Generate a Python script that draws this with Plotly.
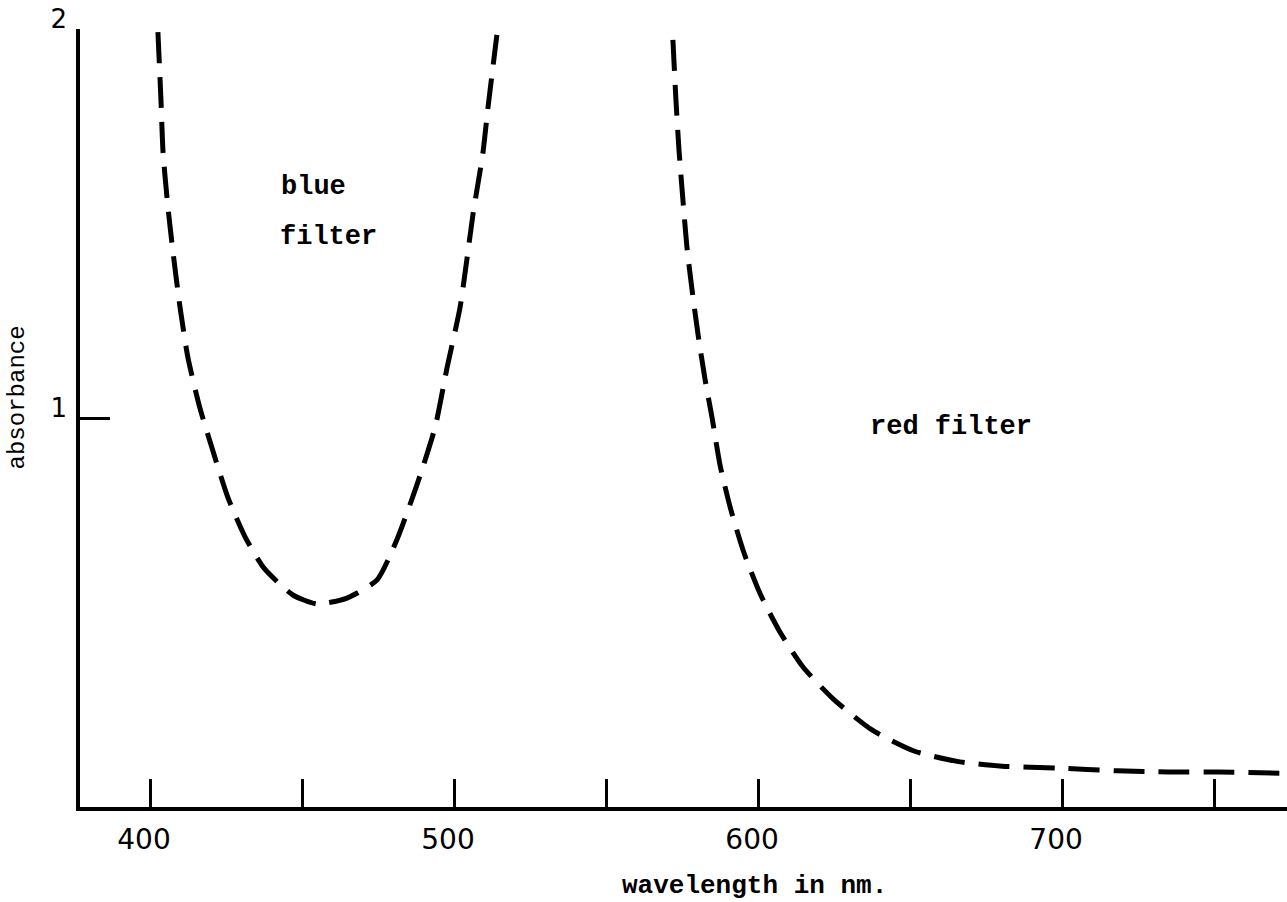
import plotly.graph_objects as go

# Blue filter absorbance curve
blue_wavelength = [402.6, 403.6, 404.3, 405.9, 407.6, 409.9, 412.5, 416.4, 420.7, 425.7,
                   431.3, 437.5, 447.0, 454.9, 464.8, 474.7, 481.3, 487.8, 493.8, 497.7,
                   502.0, 506.3, 509.5, 511.2, 514.1]
blue_absorbance = [1.992, 1.817, 1.681, 1.542, 1.424, 1.283, 1.154, 1.026, 0.915, 0.794,
                   0.694, 0.614, 0.545, 0.522, 0.537, 0.584, 0.689, 0.828, 0.977, 1.129,
                   1.285, 1.527, 1.681, 1.800, 1.985]

# Red filter absorbance curve
red_wavelength = [572.0, 573.0, 574.0, 575.3, 576.6, 578.3, 580.3, 582.6, 584.9, 587.5,
                  591.1, 595.4, 600.7, 607.2, 614.8, 624.7, 637.5, 651.3, 666.4, 680.3,
                  698.4, 718.1, 735.2, 751.3, 772.0]
red_absorbance = [1.972, 1.817, 1.689, 1.560, 1.440, 1.329, 1.213, 1.098, 1.000, 0.879,
                  0.763, 0.653, 0.548, 0.450, 0.360, 0.278, 0.198, 0.144, 0.116, 0.105,
                  0.100, 0.093, 0.090, 0.090, 0.087]

x_tick_values = [400, 450, 500, 550, 600, 650, 700, 750]
x_tick_labels = ["400", "", "500", "", "600", "", "700", ""]
y_tick_values = [1, 2]
y_tick_labels = ["1", "2"]

line_style = dict(color="black", width=5, dash="31px,14px", shape="spline", smoothing=0.6)

fig = go.Figure()
fig.add_trace(go.Scatter(x=blue_wavelength, y=blue_absorbance, mode="lines",
                         line=line_style, name="blue filter", showlegend=False,
                         hoverinfo="skip"))
fig.add_trace(go.Scatter(x=red_wavelength, y=red_absorbance, mode="lines",
                         line=line_style, name="red filter", showlegend=False,
                         hoverinfo="skip"))

mono = "Liberation Mono"
fig.add_annotation(x=442.5, y=1.594, xref="x", yref="y", text="<b>blue</b>",
                   showarrow=False, xanchor="left", yanchor="middle",
                   font=dict(family=mono, size=27, color="black"))
fig.add_annotation(x=442.0, y=1.465, xref="x", yref="y", text="<b>filter</b>",
                   showarrow=False, xanchor="left", yanchor="middle",
                   font=dict(family=mono, size=27, color="black"))
fig.add_annotation(x=636.2, y=0.977, xref="x", yref="y", text="<b>red filter</b>",
                   showarrow=False, xanchor="left", yanchor="middle",
                   font=dict(family=mono, size=27, color="black"))
fig.add_annotation(x=599.0, y=-0.101, xref="x", yref="paper", text="<b>wavelength in nm.</b>",
                   showarrow=False, xanchor="center", yanchor="middle",
                   font=dict(family=mono, size=26, color="black"))
fig.add_annotation(x=-0.051, y=0.527, xref="paper", yref="paper", text="absorbance",
                   showarrow=False, xanchor="center", yanchor="middle", textangle=-90,
                   font=dict(family=mono, size=24, color="black"))

fig.update_layout(
    width=1287, height=902,
    margin=dict(l=80, r=0, t=29, b=95),
    paper_bgcolor="white", plot_bgcolor="white",
    showlegend=False,
)
fig.update_xaxes(
    range=[376.97, 774.0], tickvals=x_tick_values, ticktext=x_tick_labels,
    ticks="inside", ticklen=28, tickwidth=3, tickcolor="black",
    showline=True, linewidth=3.5, linecolor="black",
    showgrid=False, zeroline=False,
    tickfont=dict(family="DejaVu Sans", size=28, color="black"),
    ticklabelshift=-6, ticklabelstandoff=5,
)
fig.update_yaxes(
    range=[0, 2], tickvals=y_tick_values, ticktext=y_tick_labels,
    ticks="inside", ticklen=30, tickwidth=3, tickcolor="black",
    showline=True, linewidth=3.5, linecolor="black",
    showgrid=False, zeroline=False,
    tickfont=dict(family="DejaVu Sans", size=26, color="black"),
    ticklabelshift=-10, ticklabelstandoff=4,
)

fig.write_html("out.html")
